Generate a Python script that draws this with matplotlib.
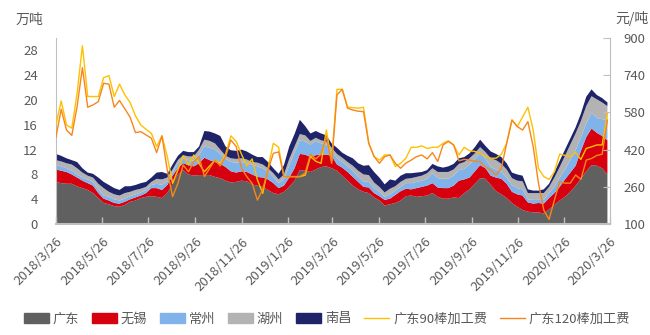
import numpy as np
import pandas as pd
import matplotlib
matplotlib.use('Agg')
import matplotlib.pyplot as plt
from matplotlib.patches import Patch
from matplotlib.lines import Line2D

plt.rcParams['font.family'] = ['Noto Sans CJK SC', 'DejaVu Sans']

# weekly data, 2018/3/26 - 2020/3/23
dates = pd.date_range('2018-03-26', periods=105, freq='7D')

# 库存 (万吨)
gd = [6.8, 6.6, 6.5, 6.5, 6.1, 5.8, 5.5, 5.0, 4.2, 3.4, 3.2, 2.9, 2.8, 3.1, 3.6, 3.8, 4.2, 4.4, 4.5, 4.4,
      4.2, 5.0, 6.5, 8.0, 8.7, 8.0, 7.8, 7.9, 7.9, 7.9, 7.6, 7.4, 7.0, 6.7, 6.8, 7.0, 6.9, 6.4, 6.2, 6.0,
      5.5, 5.0, 4.8, 5.2, 6.0, 7.0, 8.7, 8.6, 8.4, 8.8, 9.2, 9.3, 9.0, 8.6, 7.8, 7.0, 6.2, 5.6, 5.2, 5.0,
      4.3, 3.8, 3.0, 3.2, 3.4, 3.8, 4.5, 4.6, 4.4, 4.5, 4.6, 5.0, 4.4, 4.1, 4.1, 4.3, 4.2, 5.0, 5.6, 6.5,
      7.4, 7.3, 6.3, 5.3, 4.8, 4.2, 3.4, 2.8, 2.3, 2.0, 1.9, 1.9, 1.7, 2.4, 3.1, 3.8, 4.4, 5.2, 6.2, 7.3,
      8.5, 9.5, 9.4, 9.0, 8.0]
wx = [2.0, 2.0, 1.9, 1.5, 1.4, 1.2, 1.1, 1.2, 0.8, 0.7, 0.6, 0.5, 0.5, 0.5, 0.4, 0.5, 0.4, 0.6, 1.3, 1.4,
      1.3, 1.3, 1.3, 1.0, 1.1, 1.5, 1.5, 1.9, 2.8, 2.4, 2.4, 2.3, 2.2, 1.8, 1.5, 1.5, 1.5, 1.6, 1.4, 1.5,
      1.7, 1.6, 1.0, 1.0, 1.5, 2.0, 2.6, 2.6, 2.4, 2.3, 2.0, 1.9, 2.0, 1.0, 1.3, 1.4, 1.4, 1.2, 0.8, 0.9,
      0.7, 0.7, 0.9, 0.9, 1.3, 1.5, 1.2, 1.0, 1.4, 1.5, 1.6, 1.6, 1.5, 1.7, 1.7, 1.9, 2.8, 2.2, 1.9, 2.0,
      2.1, 1.7, 1.5, 2.2, 2.5, 2.3, 1.8, 2.0, 2.3, 1.5, 1.4, 1.5, 1.6, 1.8, 1.9, 2.2, 2.8, 3.1, 3.2, 4.5,
      5.5, 5.9, 5.3, 5.2, 5.5]
cz = [0.7, 0.7, 0.6, 0.6, 0.5, 0.5, 0.6, 0.6, 0.6, 0.5, 0.6, 0.6, 0.5, 0.5, 0.5, 0.5, 0.5, 0.5, 0.5, 0.7,
      0.8, 0.6, 0.5, 0.8, 0.8, 0.8, 0.9, 1.4, 1.8, 2.0, 2.0, 1.6, 1.3, 1.5, 1.6, 1.5, 1.4, 1.6, 1.7, 1.5,
      1.3, 1.0, 0.8, 1.0, 2.0, 2.5, 2.2, 2.1, 2.0, 2.3, 1.8, 1.6, 0.8, 1.0, 0.9, 0.9, 1.0, 0.8, 0.9, 0.9,
      0.8, 0.7, 0.5, 0.7, 0.7, 0.7, 0.9, 1.0, 1.0, 1.0, 1.1, 1.6, 1.5, 1.5, 1.5, 1.6, 1.7, 1.7, 2.1, 2.0,
      1.9, 1.5, 1.4, 1.3, 1.1, 1.0, 1.1, 1.0, 1.0, 0.5, 0.6, 0.5, 0.6, 0.8, 1.0, 1.5, 1.6, 2.0, 2.5, 2.2,
      2.2, 2.5, 2.4, 2.7, 3.3]
hz = [0.8, 0.8, 0.8, 1.0, 1.0, 0.8, 0.6, 0.7, 0.9, 1.2, 0.8, 0.8, 0.8, 0.9, 0.7, 0.7, 0.6, 0.5, 0.5, 0.8,
      0.9, 0.6, 0.5, 0.5, 0.5, 0.6, 0.7, 0.8, 1.1, 1.1, 1.0, 0.7, 0.5, 0.6, 0.6, 0.6, 0.6, 0.4, 0.6, 0.6,
      0.5, 0.6, 0.6, 0.8, 1.0, 1.0, 1.0, 1.0, 0.6, 0.5, 0.5, 0.5, 0.5, 0.7, 0.7, 0.7, 0.8, 1.0, 1.1, 1.1,
      0.9, 0.8, 0.7, 0.9, 0.7, 0.8, 0.7, 0.8, 0.8, 0.8, 0.9, 0.8, 1.0, 1.1, 1.1, 1.0, 1.0, 1.1, 1.0, 0.9,
      1.0, 1.1, 1.4, 1.5, 1.3, 1.3, 1.1, 1.2, 1.3, 1.0, 1.1, 1.1, 1.1, 1.0, 1.5, 1.7, 2.2, 2.5, 2.7, 2.6,
      2.8, 2.7, 3.0, 2.7, 2.2]
nc = [1.0, 0.9, 0.8, 0.7, 1.0, 0.7, 0.5, 0.6, 1.0, 1.0, 1.1, 1.0, 0.9, 1.1, 0.9, 0.8, 0.9, 0.8, 0.7, 1.0,
      1.2, 0.6, 0.8, 0.7, 0.7, 0.7, 0.7, 0.5, 1.4, 1.5, 1.6, 2.2, 1.5, 1.3, 1.3, 1.4, 1.3, 1.2, 0.9, 1.2,
      1.0, 0.8, 0.9, 1.5, 2.0, 2.0, 2.3, 1.5, 1.2, 1.1, 1.1, 1.0, 0.7, 1.0, 0.8, 1.0, 1.2, 1.2, 1.4, 1.6,
      1.7, 1.5, 1.3, 1.5, 0.9, 1.0, 0.9, 0.8, 0.7, 0.6, 0.5, 0.7, 0.9, 0.7, 0.9, 0.9, 0.9, 0.8, 0.8, 1.0,
      1.2, 1.0, 1.1, 1.0, 1.1, 1.0, 0.9, 1.0, 0.9, 0.6, 0.4, 0.4, 0.6, 0.5, 0.8, 1.0, 1.0, 1.0, 1.0, 1.2,
      1.5, 1.1, 0.7, 0.7, 0.6]

# 加工费 (元/吨)
fee90 = [526, 629, 526, 512, 662, 866, 648, 648, 648, 729, 738, 648, 701, 655, 622, 565, 526, 507, 490, 433,
         479, 390, 275, 332, 393, 354, 397, 360, 325, 350, 375, 361, 400, 479, 455, 400, 350, 380, 290, 232,
         340, 447, 430, 304, 304, 304, 304, 310, 390, 370, 361, 504, 370, 679, 679, 603, 600, 598, 602, 447,
         390, 375, 397, 397, 347, 361, 383, 430, 430, 436, 425, 430, 430, 447, 458, 440, 397, 430, 415, 412,
         404, 390, 383, 383, 400, 447, 547, 519, 560, 602, 504, 339, 304, 292, 325, 401, 395, 390, 407, 378,
         425, 432, 440, 440, 576]
fee120 = [473, 593, 504, 481, 605, 772, 602, 612, 626, 705, 701, 602, 631, 595, 559, 493, 497, 483, 469, 407,
          479, 332, 218, 275, 354, 325, 368, 390, 304, 340, 375, 350, 390, 461, 433, 340, 304, 275, 203, 250,
          332, 404, 410, 304, 304, 304, 304, 320, 400, 380, 400, 476, 361, 655, 679, 598, 590, 585, 583, 447,
          390, 361, 390, 397, 361, 340, 362, 375, 390, 397, 380, 407, 369, 440, 455, 440, 372, 378, 375, 370,
          368, 345, 332, 311, 340, 447, 547, 519, 504, 540, 433, 275, 160, 120, 203, 282, 276, 276, 311, 292,
          375, 382, 395, 400, 547]

stack_names = ['广东', '无锡', '常州', '湖州', '南昌']
stack_colors = ['#606060', '#d7000f', '#7fb3ea', '#b3b3b3', '#1f2468']
line_names = ['广东90棒加工费', '广东120棒加工费']
line_colors = ['#ffc000', '#f7861c']

tick_dates = pd.to_datetime(['2018-03-26', '2018-05-26', '2018-07-26', '2018-09-26', '2018-11-26',
                             '2019-01-26', '2019-03-26', '2019-05-26', '2019-07-26', '2019-09-26',
                             '2019-11-26', '2020-01-26', '2020-03-26'])
tick_labels = ['2018/3/26', '2018/5/26', '2018/7/26', '2018/9/26', '2018/11/26', '2019/1/26', '2019/3/26',
               '2019/5/26', '2019/7/26', '2019/9/26', '2019/11/26', '2020/1/26', '2020/3/26']

txt = '#595959'
axc = '#bfbfbf'

fig = plt.figure(figsize=(6.5, 3.35), dpi=100)
ax = fig.add_axes([0.086, 0.331, 0.852, 0.556])
ax.stackplot(dates, gd, wx, cz, hz, nc, colors=stack_colors, linewidth=0)
ax.set_xlim(tick_dates[0], tick_dates[-1])
ax.set_ylim(0, 30)
ax.set_yticks(np.arange(0, 29, 4))
ax.set_xticks(tick_dates)
ax.set_xticklabels(tick_labels, rotation=45, ha='right', va='top', rotation_mode='anchor')
ax.tick_params(axis='y', length=0, pad=13, labelsize=9.5, labelcolor=txt)
ax.tick_params(axis='x', direction='in', length=5, width=1, color=axc, pad=8, labelsize=9.5, labelcolor=txt)
for s in ['top', 'right']:
    ax.spines[s].set_visible(False)
ax.spines['left'].set_color(axc)
ax.spines['bottom'].set_color(axc)
ax.spines['bottom'].set_linewidth(1.5)

ax2 = ax.twinx()
ax2.plot(dates, fee90, color=line_colors[0], lw=1)
ax2.plot(dates, fee120, color=line_colors[1], lw=1)
ax2.set_ylim(100, 900)
ax2.set_yticks(np.arange(100, 901, 160))
ax2.tick_params(axis='y', direction='in', length=5, color=axc, pad=10, labelsize=9.5, labelcolor=txt)
for s in ['top', 'left', 'bottom']:
    ax2.spines[s].set_visible(False)
ax2.spines['right'].set_color(axc)

fig.text(0.024, 0.94, '万吨', fontsize=10, color=txt, va='center')
fig.text(0.947, 0.945, '元/吨', fontsize=10, color=txt, va='center')

handles = [Patch(color=c) for c in stack_colors] + [Line2D([], [], color=c, lw=1) for c in line_colors]
fig.legend(handles, stack_names + line_names, loc='center', bbox_to_anchor=(0.503, 0.048), ncol=7,
           frameon=False, fontsize=9.5, labelcolor=txt, handlelength=1.9, handleheight=0.75,
           handletextpad=0.3, columnspacing=0.95)

fig.savefig('out.png', dpi=100)
